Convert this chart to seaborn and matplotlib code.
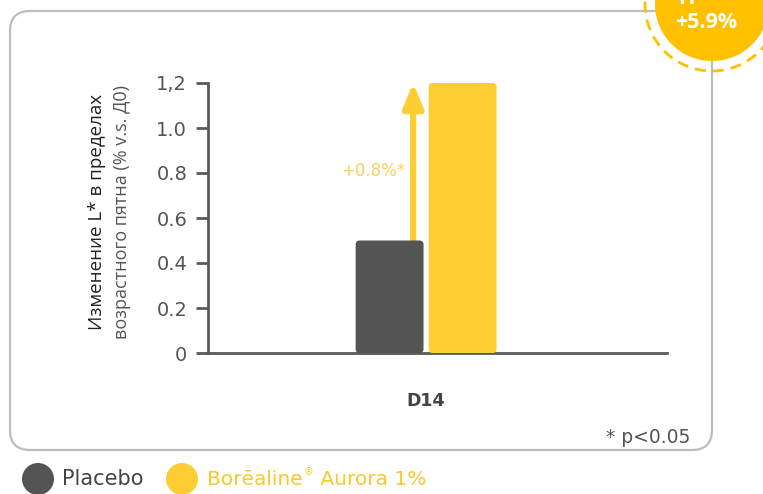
import pandas as pd
import seaborn as sns
import matplotlib.pyplot as plt
from matplotlib.patches import FancyBboxPatch, Circle

# data
days = ['D14', 'D14']
groups = ['Placebo', 'Borēaline® Aurora 1%']
values = [0.5, 1.2]
ytick_vals = [0, 0.2, 0.4, 0.6, 0.8, 1.0, 1.2]
ytick_labels = ['0', '0.2', '0.4', '0.6', '0.8', '1.0', '1,2']
delta_label = '+0.8%*'
badge_label = '+5.9%'
colors = ['#545454', '#FDCE33']

df = pd.DataFrame({'day': days, 'group': groups, 'value': values})

sns.set_theme(style='white')
plt.rcParams['font.family'] = ['DejaVu Sans']

W, H = 763, 494
fig = plt.figure(figsize=(W / 100, H / 100), dpi=100)

# overlay in pixel coords for frame, badge, legend
bg = fig.add_axes([0, 0, 1, 1], zorder=0)
bg.set_xlim(0, W)
bg.set_ylim(H, 0)
bg.axis('off')

# main chart
ax = fig.add_axes([208 / W, (H - 353) / H, (667 - 208) / W, 270 / H], zorder=1)
ax.set_facecolor('none')
sns.barplot(data=df, x='day', y='value', hue='group', palette=colors,
            saturation=1, width=0.8, gap=0.07, ax=ax, legend=False, zorder=3)

ax.set_xlim(-1.195, 1.32)
ax.set_ylim(0, 1.2)

# rounded bar corners
x_px = 182.5
y_px = 225.0
for p in list(ax.patches):
    x, y = p.get_x(), p.get_y()
    w, h = p.get_width(), p.get_height()
    fc = p.get_facecolor()
    p.set_visible(False)
    r = 4 / x_px
    ax.add_patch(FancyBboxPatch((x, y), w, h,
                                boxstyle=f'round,pad=0,rounding_size={r}',
                                mutation_aspect=x_px / y_px,
                                fc=fc, ec='none', zorder=3))

# arrow behind the bars
ax.annotate('', xy=(-0.071, 1.2), xytext=(-0.071, 0.5),
            arrowprops=dict(arrowstyle='-|>,head_length=1.2,head_width=0.5',
                            color='#FDCE33', lw=4.5, shrinkA=0, shrinkB=0),
            zorder=2)
ax.text(-0.29, 0.81, delta_label, color='#F9D25A', fontsize=12,
        ha='center', va='center', zorder=4)

for s in ['top', 'right']:
    ax.spines[s].set_visible(False)
ax.spines['left'].set_color('#5a5a5a')
ax.spines['left'].set_linewidth(2)
ax.spines['bottom'].set_color('#5a5a5a')
ax.spines['bottom'].set_linewidth(2)
ax.set_yticks(ytick_vals)
ax.set_yticklabels(ytick_labels)
ax.tick_params(axis='y', left=True, length=9, width=2, color='#5a5a5a',
               labelsize=14, labelcolor='#555555', pad=6)
ax.tick_params(axis='x', bottom=False, labelsize=12.5, labelcolor='#444444', pad=22)
for t in ax.get_xticklabels():
    t.set_fontweight('bold')
ax.set_xlabel('')
ax.set_ylabel('')

# y label, two lines
bg.text(97, 212, 'Изменение L* в пределах', rotation=90, ha='center', va='center',
        fontsize=13.5, color='#222222', family='Open Sans')
bg.text(122, 212, 'возрастного пятна (% v.s. Д0)', rotation=90, ha='center', va='center',
        fontsize=13, color='#555555', family='Open Sans')

# frame
bg.add_patch(FancyBboxPatch((10, 11), 702, 439, boxstyle='round,pad=0,rounding_size=20',
                            fc='none', ec='#BDBDBD', lw=1.6, zorder=1))
bg.text(690, 437, '* p<0.05', ha='right', va='center', fontsize=13.5, color='#555555')

# badge at top right
bg.add_patch(Circle((712, 4), 57, fc='#FFC000', ec='none', zorder=3))
bg.add_patch(Circle((712, 4), 67, fc='none', ec='#FFC000', lw=2, ls=(0, (4, 2.5)), zorder=3))
bg.text(706, 22, badge_label, ha='center', va='center', fontsize=15.5, color='white',
        fontweight='bold', zorder=4, family='Open Sans')
bg.text(686.5, 4, 'Н', ha='center', va='baseline', fontsize=15.5, color='white',
        fontweight='bold', zorder=4, family='Open Sans')

# legend
bg.add_patch(Circle((38, 479), 16, fc=colors[0], ec='none'))
bg.text(62, 479, groups[0], ha='left', va='center', fontsize=15, color='#444444')
bg.add_patch(Circle((182, 479), 16, fc=colors[1], ec='none'))

fig.canvas.draw()
renderer = fig.canvas.get_renderer()
inv = bg.transData.inverted()
t1 = bg.text(207, 479, 'Borēaline', ha='left', va='center', fontsize=14.5, color='#F9C72E')
x1 = inv.transform(t1.get_window_extent(renderer).p1)[0]
t2 = bg.text(x1 + 1, 472, '®', ha='left', va='center', fontsize=7, color='#F9C72E')
x2 = inv.transform(t2.get_window_extent(renderer).p1)[0]
bg.text(x2, 479, ' Aurora 1%', ha='left', va='center', fontsize=14.5, color='#F9C72E')

fig.savefig('out.png', dpi=100)
